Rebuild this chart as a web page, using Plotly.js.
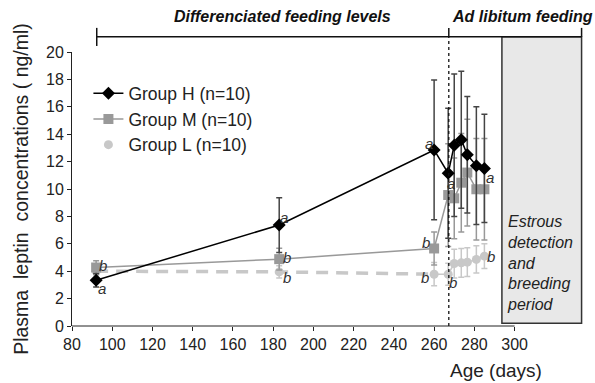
<!DOCTYPE html>
<html>
<head>
<meta charset="utf-8">
<script src="https://cdn.plot.ly/plotly-3.0.1.min.js"></script>
<style>html,body{margin:0;padding:0;background:#fff;}#chart{width:595px;height:383px;}</style>
</head>
<body>
<div id="chart"></div>
<script>
// ---- data ----
const ageDays = [92, 183, 260, 267, 270, 273.5, 276.5, 281, 285];
const groupH = [3.34, 7.37, 12.85, 11.15, 13.2, 13.6, 12.5, 11.7, 11.5];
const groupM = [4.27, 4.88, 5.66, 9.56, 9.32, 10.46, 11.2, 9.98, 9.98];
const groupL = [4.0, 3.95, 3.78, 3.78, 4.56, 4.61, 4.66, 4.86, 5.1];
const errH = [0.5, 2.0, 5.1, 4.75, 5.2, 5.0, 4.25, 4.3, 3.95];
const errM = [0.5, 0.8, 1.2, 3.75, 2.95, 3.6, 3.9, 3.7, 3.7];
const errL = [0.3, 0.45, 0.85, 0.8, 1.05, 1.05, 1.05, 1.0, 0.9];
const sigH = ['a', 'a', 'a', 'a', '', '', '', '', 'a'];
const sigM = ['b', 'b', 'b', '', '', '', '', '', ''];
const sigL = ['', 'b', 'b', 'b', '', '', '', '', 'b'];
const seriesNames = ['Group H (n=10)', 'Group M (n=10)', 'Group L (n=10)'];
const xTicks = [80, 100, 120, 140, 160, 180, 200, 220, 240, 260, 280, 300];
const yTicks = [0, 2, 4, 6, 8, 10, 12, 14, 16, 18, 20];
const adLibStart = 267.3;
const breedStart = 293.7, breedEnd = 333.3;
const diffStart = 92.3;

// ---- styling ----
const cH = '#000000', cM = '#999999', cL = '#c8c8c8';
const font = 'Liberation Sans, Arial, sans-serif';

const splitL = 3; // dashed segment through day 260
const traces = [
  {x: ageDays.slice(0, splitL), y: groupL.slice(0, splitL), mode: 'lines', showlegend: false, hoverinfo: 'skip',
   line: {color: cL, width: 3.5, dash: '12px,8px'}},
  {x: ageDays.slice(splitL - 1), y: groupL.slice(splitL - 1), mode: 'lines', showlegend: false,
   line: {color: cL, width: 1.5}},
  {x: ageDays, y: groupL, name: seriesNames[2], mode: 'markers+lines', legendrank: 3,
   line: {color: cL, width: 0}, marker: {symbol: 'circle', size: 9, color: cL},
   error_y: {type: 'data', array: errL, color: cL, thickness: 1.5, width: 3}},
  {x: ageDays, y: groupM, name: seriesNames[1], mode: 'lines+markers', legendrank: 2,
   line: {color: cM, width: 1.5}, marker: {symbol: 'square', size: 10, color: cM},
   error_y: {type: 'data', array: errM, color: cM, thickness: 1.5, width: 3}},
  {x: ageDays, y: groupH, name: seriesNames[0], mode: 'lines+markers', legendrank: 1,
   line: {color: cH, width: 1.5}, marker: {symbol: 'diamond', size: 10, color: cH},
   error_y: {type: 'data', array: errH, color: '#444', thickness: 1.5, width: 3}}
];

// significance letters offsets (px) per series/point
const offs = {
  H: {0: [6, -8], 1: [5, 8], 2: [-5, 6], 3: [3, -10], 8: [6, -9]},
  M: {0: [7, 2], 1: [8, 2], 2: [-8, 6]},
  L: {1: [8, -6], 2: [-9, -3], 3: [5, -8], 8: [7, 0]}
};
const annotations = [];
[['H', groupH, sigH], ['M', groupM, sigM], ['L', groupL, sigL]].forEach(([k, ys, sig]) => {
  sig.forEach((s, i) => {
    if (!s) return;
    const o = offs[k][i] || [6, 0];
    annotations.push({x: ageDays[i], y: ys[i], text: s, showarrow: false, xshift: o[0], yshift: o[1],
      xanchor: 'center', yanchor: 'middle',
      font: {family: font, size: 15, color: '#333', style: 'italic'}});
  });
});
annotations.push(
  {xref: 'paper', yref: 'paper', x: 0.41, xanchor: 'center', y: 1.128, yanchor: 'middle',
   text: '<i><b>Differenciated feeding levels</b></i>', showarrow: false,
   font: {family: font, size: 16, color: '#111'}},
  {xref: 'paper', yref: 'paper', x: 0.879, xanchor: 'center', y: 1.128, yanchor: 'middle',
   text: '<i><b>Ad libitum feeding</b></i>', showarrow: false,
   font: {family: font, size: 16, color: '#111'}},
  {x: breedStart + 1.5, xanchor: 'left', y: 4.6, yanchor: 'middle', align: 'left', showarrow: false,
   text: '<i>Estrous<br>detection<br>and<br>breeding<br>period</i>',
   font: {family: font, size: 16, color: '#222'}},
  {xref: 'paper', yref: 'paper', x: 0.826, xanchor: 'center', y: -0.164, yanchor: 'middle', text: 'Age (days)', showarrow: false,
   font: {family: font, size: 19, color: '#222'}}
);

const shapes = [
  {type: 'rect', xref: 'x', yref: 'paper', x0: breedStart, x1: breedEnd, y0: 0.01, y1: 1.056,
   fillcolor: '#e8e8e8', line: {color: '#333', width: 1.5}, layer: 'below'},
  {type: 'line', xref: 'x', yref: 'paper', x0: diffStart, x1: breedEnd, y0: 1.056, y1: 1.056, line: {color: '#111', width: 1.5}},
  {type: 'line', xref: 'x', yref: 'paper', x0: diffStart, x1: diffStart, y0: 1.022, y1: 1.088, line: {color: '#111', width: 1.5}},
  {type: 'line', xref: 'x', yref: 'paper', x0: breedEnd, x1: breedEnd, y0: 1.056, y1: 1.088, line: {color: '#111', width: 1.5}},
  {type: 'line', xref: 'x', yref: 'paper', x0: adLibStart, x1: adLibStart, y0: 1.056, y1: 1.088, line: {color: '#111', width: 1.5}},
  {type: 'line', xref: 'x', yref: 'paper', x0: adLibStart, x1: adLibStart, y0: 0, y1: 1.056, line: {color: '#111', width: 1.3, dash: 'dot'}},
  {type: 'line', xref: 'x', yref: 'paper', x0: 80, x1: 300, y0: 0, y1: 0, line: {color: '#222', width: 1}}
];

const layout = {
  width: 595, height: 383,
  margin: {l: 72, r: 10, t: 52, b: 57},
  paper_bgcolor: '#fff', plot_bgcolor: 'rgba(0,0,0,0)',
  font: {family: font, size: 16, color: '#222'},
  showlegend: true,
  legend: {x: 0.032, y: 0.915, xanchor: 'left', yanchor: 'top', bgcolor: 'rgba(0,0,0,0)',
    font: {family: font, size: 17.5, color: '#222'}, tracegroupgap: 0},
  xaxis: {range: [80, 335], tickmode: 'array', tickvals: xTicks, ticks: 'outside', ticklen: 4, tickcolor: '#222',
    showgrid: false, zeroline: false, showline: false, tickfont: {size: 16}},
  yaxis: {range: [0, 20], tickmode: 'array', tickvals: yTicks, ticks: 'outside', ticklen: 4, tickcolor: '#222',
    showgrid: false, zeroline: false, showline: true, linecolor: '#222', linewidth: 1, tickfont: {size: 16},
    title: {text: 'Plasma  leptin  concentrations ( ng/ml)', font: {size: 19.5}, standoff: 12}},
  shapes: shapes,
  annotations: annotations
};

Plotly.newPlot('chart', traces, layout, {staticPlot: true, displayModeBar: false});
</script>
</body>
</html>
